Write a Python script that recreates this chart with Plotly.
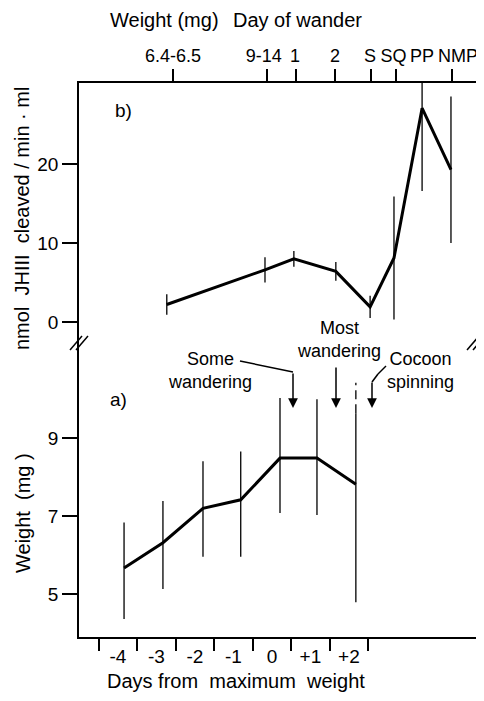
import plotly.graph_objects as go

# ---------------- data ----------------
# Panel b: JH esterase activity (nmol JHIII cleaved / min . ml)
b_x = [-2.73, -0.18, 0.57, 1.66, 2.55, 3.17, 3.90, 4.65]
b_y = [2.2, 6.6, 8.0, 6.4, 1.9, 8.1, 27.1, 19.3]
b_err = [1.3, 1.6, 1.0, 1.2, 1.4, 7.8, 10.5, 9.3]
top_labels = ["6.4-6.5", "9-14", "1", "2", "S", "SQ", "PP", "NMP"]
top_label_pos = [-2.57, -0.21, 0.60, 1.64, 2.55, 3.16, 3.90, 4.83]
top_tick_pos = [-2.57, -0.13, 0.62, 1.64, 2.57, 3.22, 4.68]

# Panel a: larval weight (mg)
a_x = [-3.84, -2.83, -1.79, -0.81, 0.21, 1.17, 2.18]
a_y = [5.67, 6.32, 7.20, 7.42, 8.49, 8.49, 7.82]
a_err_plus = [1.17, 1.07, 1.21, 1.24, 1.54, 1.51, 1.82]
a_err_minus = [1.31, 1.19, 1.24, 1.46, 1.41, 1.46, 3.03]
a_dash_top = 2.6  # dashed continuation of last error bar (above mean)

day_labels = ["-4", "-3", "-2", "-1", "0", "+1", "+2"]
day_pos = [-4, -3, -2, -1, 0, 1, 2]
day_bounds = [-4.5, -3.5, -2.5, -1.5, -0.5, 0.5, 1.5, 2.5]

b_ticks = [0, 10, 20]
a_ticks = [5, 7, 9]

# ---------------- layout geometry ----------------
# the page body has an 8px margin, so the figure is offset by 8px
OFF = 8
W, H = 484 - OFF, 701 - OFF
L, R, T, B = 79, 476, 83, 637      # plot frame in window pixels
SPLIT_PX = 340
SPLIT = (B - SPLIT_PX) / (B - T)
XR = [-5.01, 5.30]
FONT = "Liberation Sans, Arial, sans-serif"
F18 = dict(family=FONT, size=18, color="black")
F19 = dict(family=FONT, size=19, color="black")
F20 = dict(family=FONT, size=20, color="black")


def px(xp, yp):
    return (xp - L) / (R - L), (B - yp) / (B - T)


fig = go.Figure()

# panel b line + error bars
fig.add_trace(go.Scatter(
    x=b_x, y=b_y, mode="lines", xaxis="x", yaxis="y",
    line=dict(color="black", width=3),
    error_y=dict(type="data", array=b_err, color="black", thickness=1.3, width=0),
    showlegend=False, hoverinfo="skip"))

# panel a line + error bars
fig.add_trace(go.Scatter(
    x=a_x, y=a_y, mode="lines", xaxis="x", yaxis="y2",
    line=dict(color="black", width=3),
    error_y=dict(type="data", symmetric=False, array=a_err_plus,
                 arrayminus=a_err_minus, color="black", thickness=1.3, width=0),
    showlegend=False, hoverinfo="skip"))

# dashed continuation of last weight error bar
fig.add_trace(go.Scatter(
    x=[a_x[-1], a_x[-1]],
    y=[a_y[-1] + a_err_plus[-1], a_y[-1] + a_dash_top],
    mode="lines", xaxis="x", yaxis="y2",
    line=dict(color="black", width=1.3, dash="9px,5px"),
    showlegend=False, hoverinfo="skip"))

# dummy traces for the overlay axes
for xa, ya in [("x2", "y"), ("x3", "y2"), ("x4", "y")]:
    fig.add_trace(go.Scatter(x=[None], y=[None], xaxis=xa, yaxis=ya,
                             showlegend=False, hoverinfo="skip"))

common_x = dict(range=XR, showgrid=False, zeroline=False, automargin=False,
                fixedrange=True, tickangle=0)

fig.update_layout(
    width=W, height=H,
    margin=dict(l=L - OFF, r=W - (R - OFF), t=T - OFF, b=H - (B - OFF), pad=0),
    paper_bgcolor="white", plot_bgcolor="white",
    font=F19,
    xaxis=dict(common_x, domain=[0, 1], anchor="y2", side="bottom",
               showline=True, linecolor="black", linewidth=1.5,
               tickmode="array", tickvals=day_pos, ticktext=day_labels,
               ticks="outside", ticklen=1, tickcolor="rgba(0,0,0,0)",
               tickfont=F19),
    xaxis3=dict(common_x, overlaying="x", anchor="y2", side="bottom",
                tickmode="array", tickvals=day_bounds, showticklabels=False,
                ticks="outside", ticklen=13, tickwidth=1.5, tickcolor="black",
                showline=False),
    xaxis2=dict(common_x, overlaying="x", anchor="y", side="top",
                showline=True, linecolor="black", linewidth=1.5,
                tickmode="array", tickvals=top_label_pos, ticktext=top_labels,
                ticks="outside", ticklen=12, tickcolor="rgba(0,0,0,0)",
                tickfont=F18),
    xaxis4=dict(common_x, overlaying="x", anchor="y", side="top",
                tickmode="array", tickvals=top_tick_pos, showticklabels=False,
                ticks="outside", ticklen=13, tickwidth=1.5, tickcolor="black",
                showline=False),
    yaxis=dict(domain=[SPLIT, 1], range=[-2.3, 30.3], anchor="x",
               tickmode="array", tickvals=b_ticks, ticks="outside", ticklen=15,
               tickwidth=1.5, tickcolor="black", showline=True, mirror=True,
               linecolor="black", linewidth=1.5, showgrid=False, zeroline=False,
               tickfont=F19, automargin=False, fixedrange=True),
    yaxis2=dict(domain=[0, SPLIT], range=[3.9, 11.52], anchor="x",
                tickmode="array", tickvals=a_ticks, ticks="outside", ticklen=15,
                tickwidth=1.5, tickcolor="black", showline=True, mirror=True,
                linecolor="black", linewidth=1.5, showgrid=False, zeroline=False,
                tickfont=F19, automargin=False, fixedrange=True),
)

ann = []


def text(t, xp, yp, font=F19, **kw):
    x, y = px(xp, yp)
    d = dict(text=t, x=x, y=y, xref="paper", yref="paper", showarrow=False,
             font=font, xanchor="center", yanchor="middle")
    d.update(kw)
    ann.append(d)


# titles
text("Weight (mg)", 164, 20, F20)
text("Day of wander", 297, 20, F20)
text("Days from  maximum  weight", 236, 681, F20)
text("nmol  JHIII  cleaved / min · ml", 22, 219, F20, textangle=-90)
text("Weight  (mg )", 23, 513, F20, textangle=-90)

# panel labels
text("b)", 123, 110)
text("a)", 118, 399)

# event labels
text("Some<br>wandering", 210, 370, F18)
text("Most<br>wandering", 339, 339, F18)
text("Cocoon<br>spinning", 420, 370, F18)

# arrows (head at given pixel, tail offset in pixels)
for hx, hy, ty in [(293, 408, 372), (336, 408, 366), (372, 408, 381)]:
    x, y = px(hx, hy)
    ann.append(dict(text="", x=x, y=y, xref="paper", yref="paper",
                    showarrow=True, ax=0, ay=ty - hy, arrowhead=2,
                    arrowsize=1.3, arrowwidth=1.5, arrowcolor="black",
                    standoff=0, startstandoff=0))

fig.update_layout(annotations=ann)

shapes = []


def seg(x0p, y0p, x1p, y1p, w=1.5):
    x0, y0 = px(x0p, y0p)
    x1, y1 = px(x1p, y1p)
    shapes.append(dict(type="line", xref="paper", yref="paper",
                       x0=x0, y0=y0, x1=x1, y1=y1,
                       line=dict(color="black", width=w)))


# leader lines
seg(240, 361, 293, 372)
seg(386, 366, 378, 374)
seg(378, 374, 372, 382)

# axis break marks //
for cx in (L, R):
    for off in (-3, 3):
        seg(cx + off - 6, 350, cx + off + 6, 336, w=1.5)

fig.update_layout(shapes=shapes)

fig.write_html("out.html")
